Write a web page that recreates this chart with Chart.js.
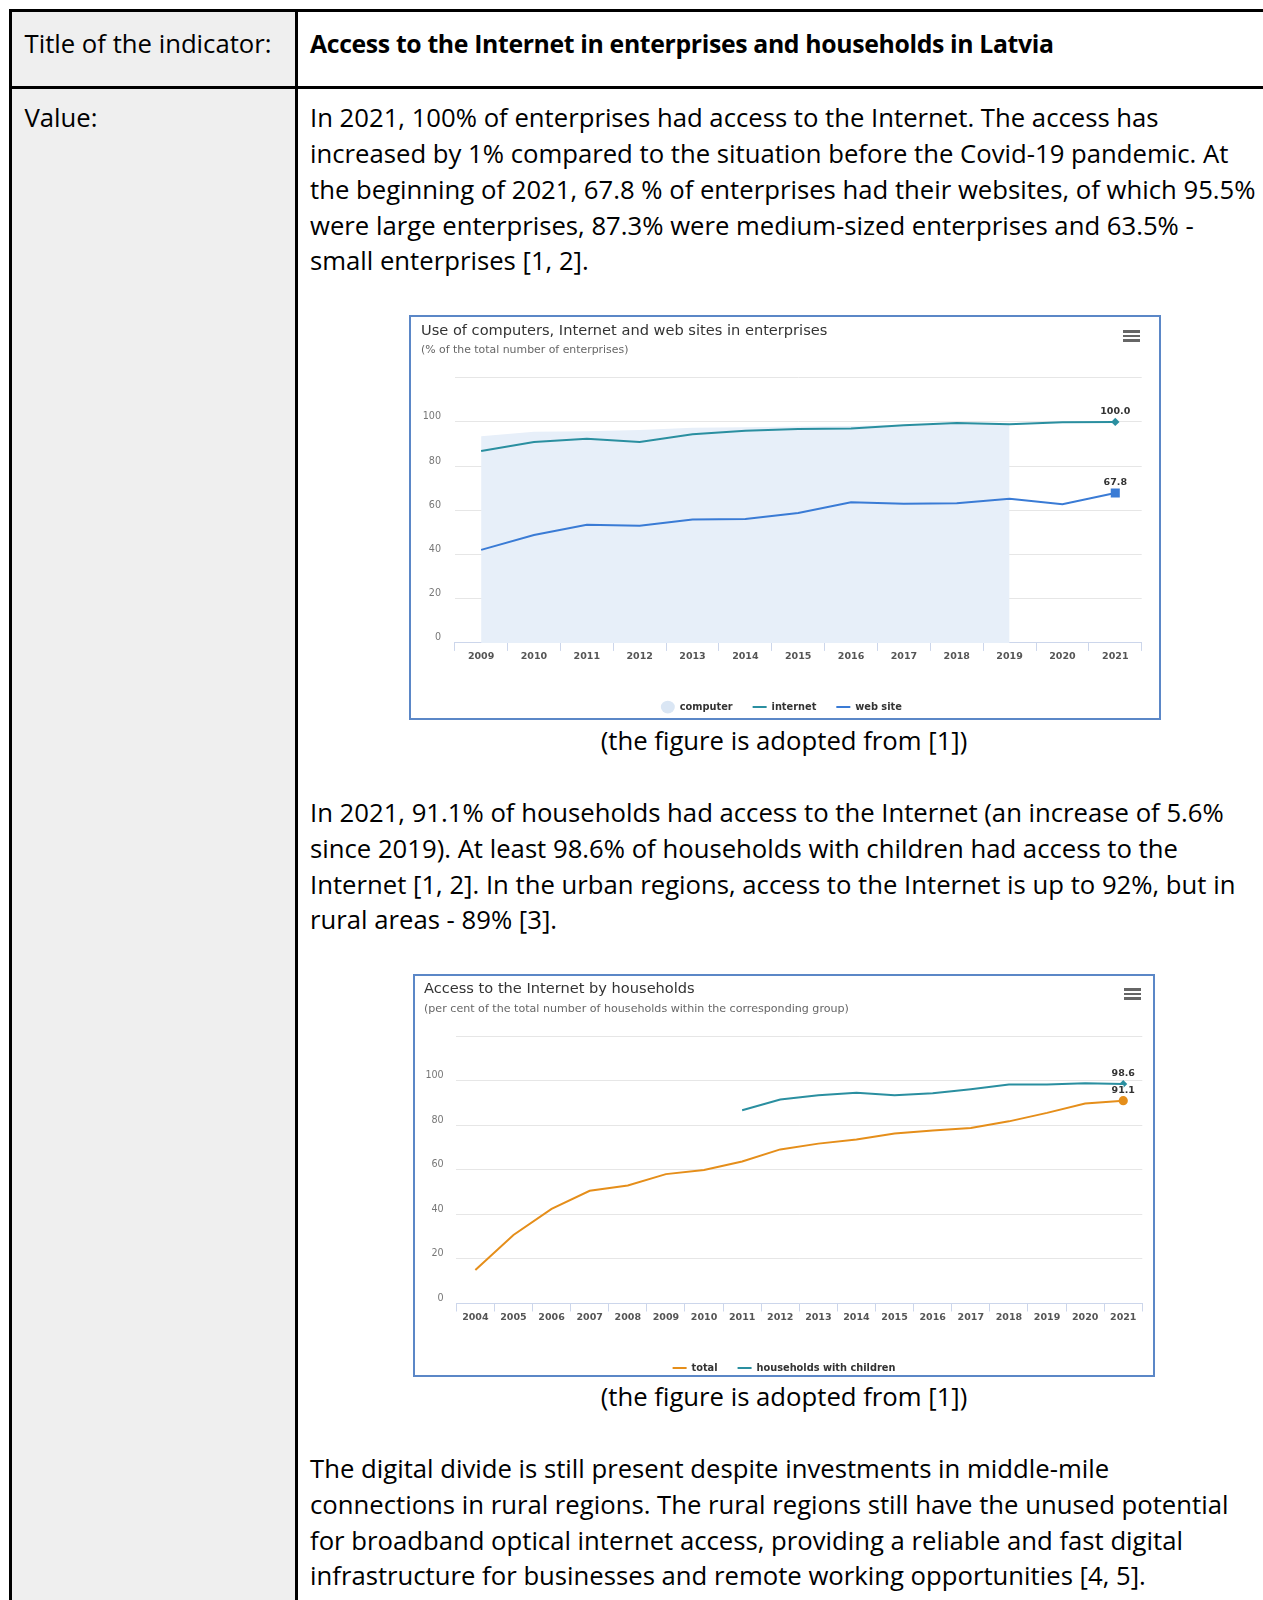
<!DOCTYPE html>
<html>
<head>
<meta charset="utf-8">
<script src="https://cdn.jsdelivr.net/npm/chart.js@4.4.0/dist/chart.umd.min.js"></script>
<style>
html, body { margin: 0; padding: 0; background: #fff; }
body { width: 1263px; height: 1600px; position: relative; overflow: hidden; font-family: "Open Sans", sans-serif; color: #000; }
.blk { position: absolute; background: #000; }
.txt { position: absolute; left: 310px; font-size: 25.7px; line-height: 35.7px; white-space: nowrap; }
.lab { position: absolute; left: 24.5px; font-size: 25.7px; line-height: 35.7px; white-space: nowrap; }
.cap { position: absolute; left: 484px; width: 600px; text-align: center; font-size: 25.7px; line-height: 35.7px; }
.frame { position: absolute; border: 2px solid #5b87c7; z-index: 5; pointer-events: none; }
.cwrap { position: absolute; z-index: 2; }
.ctitle { position: absolute; font-family: "DejaVu Sans"; font-size: 14.6px; line-height: 17px; color: #333; white-space: nowrap; z-index: 3; }
.csub { position: absolute; font-family: "DejaVu Sans"; line-height: 13px; color: #666; white-space: nowrap; z-index: 3; }
.menu { position: absolute; width: 17px; height: 12px; z-index: 3; }
.menu div { height: 2.6px; background: #666; margin-bottom: 2px; }
</style>
</head>
<body>
<div style="position:absolute;left:12px;top:12px;width:283px;height:1588px;background:#efefef"></div>
<div class="blk" style="left:9px;top:9px;width:1254px;height:3px"></div>
<div class="blk" style="left:9px;top:9px;width:3px;height:1591px"></div>
<div class="blk" style="left:295px;top:9px;width:3px;height:1591px"></div>
<div class="blk" style="left:9px;top:86px;width:1254px;height:3px"></div>

<div class="lab" style="top:26px">Title of the indicator:</div>
<div class="txt" style="top:26px;font-weight:bold;font-size:24.8px;letter-spacing:-0.35px">Access to the Internet in enterprises and households in Latvia</div>
<div class="lab" style="top:100.4px">Value:</div>

<div class="txt" style="top:100.4px">In 2021, 100% of enterprises had access to the Internet. The access has<br>increased by 1% compared to the situation before the Covid-19 pandemic. At<br>the beginning of 2021, 67.8 % of enterprises had their websites, of which 95.5%<br>were large enterprises, 87.3% were medium-sized enterprises and 63.5% -<br>small enterprises [1, 2].</div>

<div class="frame" style="left:409px;top:315px;width:748px;height:401px"></div>
<div class="ctitle" style="left:421px;top:320.5px">Use of computers, Internet and web sites in enterprises</div>
<div class="csub" style="left:421px;top:342.8px;font-size:10.9px">(% of the total number of enterprises)</div>
<div class="menu" style="left:1123px;top:330px"><div></div><div></div><div></div></div>
<div class="cwrap" style="left:411px;top:317px;width:748px;height:405px"><canvas id="chartEnt"></canvas></div>

<div class="cap" style="top:722.9px">(the figure is adopted from [1])</div>

<div class="txt" style="top:795.3px">In 2021, 91.1% of households had access to the Internet (an increase of 5.6%<br>since 2019). At least 98.6% of households with children had access to the<br>Internet [1, 2]. In the urban regions, access to the Internet is up to 92%, but in<br>rural areas - 89% [3].</div>

<div class="frame" style="left:413px;top:974px;width:738px;height:399px"></div>
<div class="ctitle" style="left:424px;top:978.8px">Access to the Internet by households</div>
<div class="csub" style="left:424px;top:1001.8px;font-size:11.1px">(per cent of the total number of households within the corresponding group)</div>
<div class="menu" style="left:1124px;top:988px"><div></div><div></div><div></div></div>
<div class="cwrap" style="left:415px;top:976px;width:738px;height:407px"><canvas id="chartHh"></canvas></div>

<div class="cap" style="top:1378.9px">(the figure is adopted from [1])</div>

<div class="txt" style="top:1451.2px">The digital divide is still present despite investments in middle-mile<br>connections in rural regions. The rural regions still have the unused potential<br>for broadband optical internet access, providing a reliable and fast digital<br>infrastructure for businesses and remote working opportunities [4, 5].</div>

<script>
// enterprises chart
const entYears = ["2009", "2010", "2011", "2012", "2013", "2014", "2015", "2016", "2017", "2018", "2019", "2020", "2021"];
const entComputer = [93.5, 95.5, 95.8, 96.3, 97.4, 97.6, 97.9, 98.2, 98.7, 99.5, 99.3];
const entInternet = [86.8, 90.9, 92.4, 90.9, 94.4, 96.0, 96.8, 97.0, 98.5, 99.5, 98.9, 99.8, 100.0];
const entWebsite = [42.1, 48.8, 53.5, 53.0, 55.8, 56.1, 58.8, 63.6, 63.0, 63.2, 65.2, 62.7, 67.8];

// households chart
const hhYears = ["2004", "2005", "2006", "2007", "2008", "2009", "2010", "2011", "2012", "2013", "2014", "2015", "2016", "2017", "2018", "2019", "2020", "2021"];
const hhTotal = [15.0, 30.8, 42.5, 50.6, 53.0, 58.1, 60.0, 63.8, 69.2, 71.8, 73.7, 76.3, 77.7, 78.8, 81.8, 85.6, 89.8, 91.1];
const hhChildren = [null, null, null, null, null, null, null, 86.8, 91.6, 93.5, 94.6, 93.5, 94.4, 96.2, 98.3, 98.3, 98.9, 98.6];

// y axis ticks (top tick has no label)
const yMin = 0;
const yMax = 120;
const yStep = 20;

const teal = "#2a8fa0";
const blue = "#3a7bd5";
const orange = "#e58e1a";
const hcFont = "DejaVu Sans";

// only the last point gets a marker
const lastOnly = (r) => (ctx) => ctx.dataIndex === ctx.dataset.data.length - 1 ? r : 0;

// value label above the last point of a series
const lastLabelPlugin = {
  id: "lastLabel",
  afterDatasetsDraw(chart) {
    const ctx = chart.ctx;
    chart.data.datasets.forEach((ds, i) => {
      if (!ds.lastLabel) return;
      const idx = ds.data.length - 1;
      const pt = chart.getDatasetMeta(i).data[idx];
      const text = ds.data[idx].toFixed(1);
      ctx.save();
      ctx.font = "bold 9.5px '" + hcFont + "'";
      ctx.textAlign = "center";
      ctx.textBaseline = "middle";
      ctx.lineJoin = "round";
      ctx.lineWidth = 2;
      ctx.strokeStyle = "#fff";
      ctx.strokeText(text, pt.x, pt.y - 10.5);
      ctx.fillStyle = "#333";
      ctx.fillText(text, pt.x, pt.y - 10.5);
      ctx.restore();
    });
  },
};

function legendLabels(chart) {
  const items = Chart.defaults.plugins.legend.labels.generateLabels(chart);
  items.forEach((it) => {
    const ds = chart.data.datasets[it.datasetIndex];
    if (ds.legendStyle === "circle") {
      it.pointStyle = "circle";
      it.fillStyle = "#dae6f4";
      it.strokeStyle = "#dae6f4";
      it.lineWidth = 0;
    } else {
      it.pointStyle = "line";
      it.strokeStyle = ds.borderColor;
      it.lineWidth = 2;
    }
  });
  return items;
}

function baseOptions(pad, yWidth, yPad, xHeight) {
  return {
    responsive: true,
    maintainAspectRatio: false,
    animation: false,
    events: [],
    layout: { padding: pad },
    elements: { line: { tension: 0 } },
    plugins: {
      filler: { drawTime: "beforeDatasetsDraw" },
      tooltip: { enabled: false },
      title: { display: false },
      legend: {
        position: "bottom",
        labels: {
          usePointStyle: true,
          pointStyleWidth: 14,
          boxHeight: 9,
          padding: 20,
          color: "#333",
          font: { family: hcFont, size: 9.8, weight: "bold" },
          generateLabels: legendLabels,
        },
      },
    },
    scales: {
      x: {
        offset: true,
        grid: { offset: true, drawOnChartArea: false, tickLength: 8, color: "#ccd6eb" },
        border: { color: "#ccd6eb" },
        ticks: { color: "#555", padding: 0, maxRotation: 0, autoSkip: false, font: { family: hcFont, size: 9.5, weight: "bold" } },
        afterFit: (s) => { s.height = xHeight; },
      },
      y: {
        min: yMin,
        max: yMax,
        grid: { color: "#e6e6e6", drawTicks: false },
        border: { display: false },
        ticks: {
          stepSize: yStep,
          padding: yPad,
          labelOffset: -5,
          color: "#777",
          font: { family: hcFont, size: 9.6 },
          callback: (v) => (v === yMax ? "" : v),
        },
        afterFit: (s) => { s.width = yWidth; },
      },
    },
  };
}

new Chart(document.getElementById("chartEnt"), {
  type: "line",
  data: {
    labels: entYears,
    datasets: [
      {
        label: "computer",
        data: entComputer,
        legendStyle: "circle",
        fill: "origin",
        backgroundColor: "#e7eff9",
        borderColor: "rgba(0,0,0,0)",
        borderWidth: 0,
        pointRadius: 0,
      },
      {
        label: "internet",
        data: entInternet,
        borderColor: teal,
        backgroundColor: teal,
        borderWidth: 2,
        pointStyle: "rectRot",
        pointRadius: lastOnly(4.2),
        pointBorderWidth: 0,
        lastLabel: true,
      },
      {
        label: "web site",
        data: entWebsite,
        borderColor: blue,
        backgroundColor: blue,
        borderWidth: 2,
        pointStyle: "rect",
        pointRadius: lastOnly(6.4),
        pointBorderWidth: 0,
        lastLabel: true,
      },
    ],
  },
  options: baseOptions({ top: 60.7, left: 10, right: 17.3, bottom: 0 }, 33.7, 13.7, 39.3),
  plugins: [lastLabelPlugin],
});

new Chart(document.getElementById("chartHh"), {
  type: "line",
  data: {
    labels: hhYears,
    datasets: [
      {
        label: "total",
        data: hhTotal,
        borderColor: orange,
        backgroundColor: orange,
        borderWidth: 2,
        pointStyle: "circle",
        pointRadius: lastOnly(4.6),
        pointBorderWidth: 0,
        lastLabel: true,
      },
      {
        label: "households with children",
        data: hhChildren,
        borderColor: teal,
        backgroundColor: teal,
        borderWidth: 2,
        pointStyle: "rectRot",
        pointRadius: lastOnly(4),
        pointBorderWidth: 0,
        lastLabel: true,
      },
    ],
  },
  options: baseOptions({ top: 60.3, left: 10.7, right: 10.7, bottom: 0 }, 30.6, 12.6, 39.7),
  plugins: [lastLabelPlugin],
});
</script>
</body>
</html>
